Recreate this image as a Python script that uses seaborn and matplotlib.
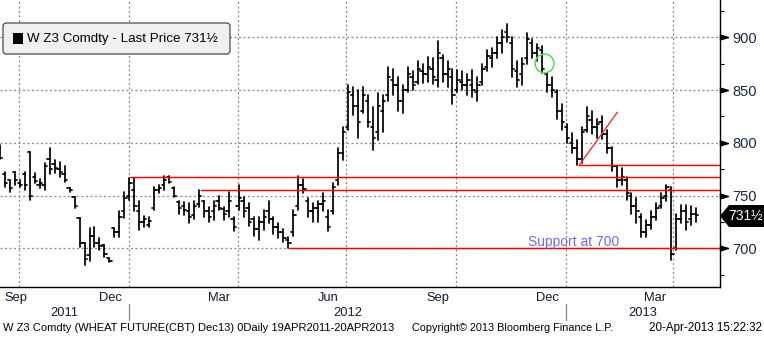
import numpy as np
import pandas as pd
import matplotlib
matplotlib.use("Agg")
import matplotlib.pyplot as plt
import matplotlib.dates as mdates
import matplotlib.ticker as mticker
import matplotlib.transforms as mtransforms
from matplotlib.patches import FancyBboxPatch, Rectangle, Polygon
import seaborn as sns

# ---------------- data ----------------
bar_open = [795, 770, 765, 772, 762, 770, 791, 768, 760, 760, 785, 780, 775, 770, 757, 749, 729, 705, 694, 712,
            705, 703, 691, 719, 715, 735, 750, 755, 735, 725, 722, 738, 755, 760, 768, 757, 744, 740, 735, 732,
            742, 745, 735, 735, 745, 737, 735, 728, 740, 745, 738, 728, 718, 725, 735, 728, 720, 715, 708, 715,
            740, 760, 745, 735, 738, 742, 730, 735, 765, 790, 815, 845, 835, 830, 840, 815, 810, 830, 845, 860,
            855, 840, 850, 862, 858, 868, 865, 870, 860, 880, 865, 862, 850, 858, 855, 855, 848, 858, 872, 880,
            885, 895, 905, 895, 868, 865, 880, 895, 885, 888, 865, 855, 848, 830, 815, 800, 795, 785, 812, 822,
            815, 820, 808, 795, 778, 765, 765, 750, 740, 730, 715, 722, 730, 740, 750, 755, 700, 728, 735, 728,
            733]
bar_high = [798, 772, 765, 772, 765, 772, 791, 771, 766, 781, 795, 784, 782, 778, 757, 749, 729, 705, 719, 720,
            710, 703, 691, 719, 735, 753, 767, 767, 745, 731, 730, 758, 760, 769, 769, 758, 745, 744, 743, 745,
            755, 745, 739, 745, 750, 739, 753, 730, 760, 749, 743, 730, 730, 736, 745, 730, 724, 718, 711, 736,
            769, 766, 748, 743, 745, 752, 736, 762, 795, 815, 855, 853, 850, 853, 845, 834, 847, 845, 872, 870,
            862, 855, 872, 868, 878, 875, 881, 880, 897, 883, 878, 870, 869, 868, 865, 869, 862, 875, 888, 890,
            900, 907, 913, 900, 878, 880, 904, 898, 894, 892, 866, 862, 850, 837, 818, 809, 803, 815, 834, 830,
            823, 825, 812, 796, 778, 776, 768, 752, 748, 733, 727, 735, 743, 752, 760, 758, 733, 741, 741, 740,
            738]
bar_low = [785, 758, 753, 760, 758, 755, 746, 762, 757, 755, 770, 771, 768, 763, 753, 738, 701, 684, 688, 701,
           698, 692, 687, 711, 711, 729, 746, 735, 717, 720, 720, 736, 752, 755, 762, 749, 733, 732, 724, 728,
           739, 730, 725, 727, 736, 727, 730, 716, 736, 730, 721, 712, 708, 717, 724, 714, 710, 706, 700, 712,
           736, 752, 730, 725, 725, 735, 716, 733, 760, 784, 812, 826, 805, 828, 815, 793, 803, 810, 840, 845,
           830, 828, 848, 850, 856, 857, 858, 856, 853, 858, 853, 837, 848, 850, 845, 843, 840, 855, 868, 872,
           880, 885, 896, 862, 853, 855, 875, 880, 878, 866, 848, 843, 823, 812, 800, 790, 779, 781, 810, 808,
           805, 804, 790, 773, 758, 760, 746, 733, 724, 711, 711, 718, 727, 738, 745, 689, 698, 724, 717, 722,
           725]
bar_close = [786, 762, 757, 765, 760, 760, 750, 764, 762, 778, 775, 776, 772, 765, 755, 740, 705, 690, 712, 705,
             702, 695, 688, 715, 730, 748, 762, 740, 725, 728, 726, 755, 757, 765, 763, 750, 738, 736, 730, 740,
             750, 735, 730, 740, 738, 733, 745, 720, 748, 735, 725, 718, 725, 730, 728, 720, 715, 710, 705, 732,
             760, 756, 735, 738, 742, 745, 720, 758, 790, 810, 848, 835, 820, 845, 820, 805, 835, 840, 862, 855,
             840, 850, 865, 855, 870, 865, 872, 862, 885, 865, 870, 845, 860, 855, 860, 850, 855, 870, 882, 885,
             895, 900, 900, 870, 860, 875, 898, 885, 890, 870, 855, 850, 830, 820, 805, 795, 785, 810, 825, 815,
             818, 808, 795, 778, 765, 768, 752, 740, 735, 715, 722, 730, 738, 748, 758, 695, 728, 735, 725, 733,
             731.5]
first_bar_date = "2011-09-15"
last_bar_date = "2013-04-20"
view_start, view_end = "2011-09-15", "2013-05-10"
y_range = (663.8, 935.4)

level_values = [767.3, 755.0, 700.0, 778.7]
level_starts = ["2012-01-02", "2012-03-01", "2012-05-14", "2013-01-12"]
trend_dates = ["2013-01-12", "2013-02-13"]
trend_values = [778.7, 829.0]
circle_date, circle_value = "2012-12-14", 875.6
support_date, support_value = "2012-11-30", 706
support_text = "Support at 700"

y_major = [700, 750, 800, 850, 900]
y_minor = [675, 725, 775, 825, 875, 925]
quarter_starts = ["2011-10-01", "2012-01-01", "2012-04-01", "2012-07-01", "2012-10-01", "2013-01-01", "2013-04-01"]
month_labels = ["Sep", "Dec", "Mar", "Jun", "Sep", "Dec", "Mar"]
month_label_starts = ["2011-09-01", "2011-12-01", "2012-03-01", "2012-06-01", "2012-09-01", "2012-12-01", "2013-03-01"]
year_labels = ["2011", "2012", "2013"]
year_starts = ["2011-01-01", "2012-01-01", "2013-01-01", "2014-01-01"]

legend_text = "W Z3 Comdty - Last Price 731½"
last_price_tag = "731½"
footer_left = "W Z3 Comdty (WHEAT FUTURE(CBT) Dec13) 0Daily 19APR2011-20APR2013"
footer_mid = "Copyright\u00a9 2013 Bloomberg Finance L.P."
footer_right = "20-Apr-2013 15:22:32"

# ---------------- style ----------------
sns.set_style("white")
plt.rcParams["font.family"] = ["Liberation Sans", "DejaVu Sans"]
NAVY = "#1b2748"

W, H = 764, 338
fig = plt.figure(figsize=(W / 100, H / 100), dpi=100)
fig.patch.set_facecolor("white")
ax_left, ax_right, ax_top, ax_bottom = 0, 720, 0, 286.5
ax = fig.add_axes([ax_left / W, 1 - ax_bottom / H, (ax_right - ax_left) / W, (ax_bottom - ax_top) / H])
ax.set_facecolor("white")

# ---------------- bars ----------------
dates = pd.date_range(first_bar_date, last_bar_date, periods=len(bar_close))
bars = pd.DataFrame({"date": dates, "open": bar_open, "high": bar_high,
                     "low": bar_low, "close": bar_close})
bars["bar"] = np.arange(len(bars))
hl = bars.melt(id_vars=["bar", "date"], value_vars=["low", "high"], value_name="price")
tick = pd.Timedelta(hours=46)
opens = pd.concat([
    pd.DataFrame({"bar": bars.bar, "date": bars.date - tick, "price": bars.open}),
    pd.DataFrame({"bar": bars.bar, "date": bars.date, "price": bars.open})])
closes = pd.concat([
    pd.DataFrame({"bar": bars.bar, "date": bars.date, "price": bars.close}),
    pd.DataFrame({"bar": bars.bar, "date": bars.date + tick, "price": bars.close})])

grid_kw = dict(color="#8a8a8a", lw=0.9, ls=(0, (1.6, 2.0)), zorder=1)
for q in quarter_starts:
    ax.axvline(pd.Timestamp(q), **grid_kw)
for yv in y_major:
    ax.axhline(yv, **grid_kw)

for df in (hl, opens, closes):
    sns.lineplot(data=df, x="date", y="price", units="bar", estimator=None,
                 color="black", lw=1.25, ax=ax, legend=False, zorder=3)

xmax = pd.Timestamp(view_end)
for v, s in zip(level_values, level_starts):
    ax.plot([pd.Timestamp(s), xmax], [v, v], color="#ff0000", lw=1.05, zorder=4)
ax.plot([pd.Timestamp(d) for d in trend_dates], trend_values, color="#ff3333", lw=1.0, zorder=4)
ax.plot([pd.Timestamp(circle_date)], [circle_value], marker="o", ms=13.5, mfc="none",
        mec="#55dd55", mew=1.1, zorder=5)
ax.text(pd.Timestamp(support_date), support_value, support_text, color="#6d6de6",
        fontsize=10, va="center", ha="left", zorder=5)

# ---------------- axes ----------------
ax.set_xlim(pd.Timestamp(view_start), xmax)
ax.set_ylim(*y_range)
ax.set_xlabel("")
ax.set_ylabel("")
for s in ("left", "top"):
    ax.spines[s].set_visible(False)
for s in ("right", "bottom"):
    ax.spines[s].set_visible(True)
    ax.spines[s].set_color("black")
    ax.spines[s].set_linewidth(1.0)

ax.yaxis.tick_right()
ax.set_yticks(y_major)
ax.set_yticks(y_minor, minor=True)
ax.yaxis.set_major_formatter(mticker.FuncFormatter(lambda v, p: f"{v:.0f}"))
ax.tick_params(axis="y", which="major", length=0, pad=9, labelsize=10.5, labelcolor=NAVY)
ax.tick_params(axis="y", which="minor", length=3, width=0.8, direction="out", color="black")
tri = [(0, -1.5), (5, 0), (0, 1.5), (0, -1.5)]
trans_y = mtransforms.blended_transform_factory(ax.transAxes, ax.transData)
ax.plot([1] * len(y_major), y_major, ls="none", marker=tri, ms=11.5, color="black",
        transform=trans_y, clip_on=False, zorder=6)

ax.xaxis.set_major_locator(mdates.MonthLocator())
ax.xaxis.set_major_formatter(mticker.NullFormatter())
vs = pd.Timestamp(view_start)
label_pos = []
for s in month_label_starts:
    st = pd.Timestamp(s)
    mid = st + (st + pd.offsets.MonthBegin(1) - st) / 2
    label_pos.append(max(mid, vs + pd.Timedelta(days=13)))
ax.xaxis.set_minor_locator(mticker.FixedLocator(mdates.date2num(label_pos)))
ax.xaxis.set_minor_formatter(mticker.FixedFormatter(month_labels))
ax.tick_params(axis="x", which="major", length=3, width=0.8, direction="out", color="black")
ax.tick_params(axis="x", which="minor", length=0, pad=4, labelsize=9.3, labelcolor="#121a30")

trans_x = mtransforms.blended_transform_factory(ax.transData, ax.transAxes)
def ax_y(px_from_top):
    return (ax_bottom - px_from_top) / (ax_bottom - ax_top)
for i, lab in enumerate(year_labels):
    a = max(pd.Timestamp(year_starts[i]), vs)
    b = min(pd.Timestamp(year_starts[i + 1]), xmax)
    ax.text(a + (b - a) / 2, ax_y(312.5), lab, transform=trans_x, ha="center", va="center",
            fontsize=9.3, color="#121a30", clip_on=False)
for ys in year_starts[1:3]:
    t = pd.Timestamp(ys)
    ax.plot([t, t], [ax_y(304), ax_y(320)], transform=trans_x, color="#888888", lw=0.9, clip_on=False)

# ---------------- legend box ----------------
px = fig.dpi_scale_trans
def P(x, y):
    return (x / 100, (H - y) / 100)
box = FancyBboxPatch(P(3, 54), 227 / 100, 31 / 100, boxstyle="round,pad=0,rounding_size=0.035",
                     transform=px, facecolor="#f0f0f0", edgecolor="#4a4a4a", lw=0.9)
fig.add_artist(box)
fig.add_artist(Rectangle(P(13, 44), 10 / 100, 11 / 100, transform=px, facecolor="black", edgecolor="none"))
fig.text(27 / W, 1 - 39 / H, legend_text, fontsize=9.6, color="black", va="center", ha="left")

# ---------------- last price tag ----------------
tag = Polygon([P(720, 216), P(729, 205), P(764, 205), P(764, 227), P(729, 227)], closed=True,
              transform=px, facecolor="black", edgecolor="none", zorder=10)
fig.add_artist(tag)
fig.text(746 / W, 1 - 216.5 / H, last_price_tag, fontsize=10, color="white", ha="center", va="center", zorder=11)

# ---------------- footer ----------------
fig.text(3 / W, 1 - 328 / H, footer_left, fontsize=8.0, color="black", ha="left", va="center")
fig.text(513 / W, 1 - 328 / H, footer_mid, fontsize=7.8, color="black", ha="center", va="center")
fig.text(762 / W, 1 - 328 / H, footer_right, fontsize=8.4, color="black", ha="right", va="center")

fig.savefig("out.png", dpi=100, facecolor="white")
